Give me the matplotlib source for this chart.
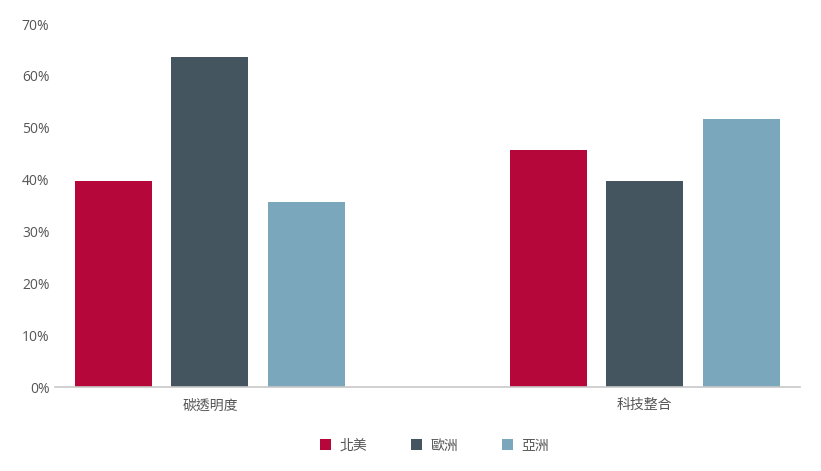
import matplotlib
matplotlib.use("Agg")
import matplotlib.pyplot as plt
import numpy as np

categories = ["碳透明度", "科技整合"]
regions = ["北美", "歐洲", "亞洲"]
north_america = [39.7, 45.7]
europe = [63.6, 39.7]
asia = [35.6, 51.6]
colors = ["#B5073A", "#45555F", "#7BA7BC"]

plt.rcParams['font.family'] = ['Open Sans', 'Noto Sans CJK TC', 'DejaVu Sans']

fig = plt.figure(figsize=(8.21, 4.71), dpi=100)
ax = fig.add_axes([0.067, 0.178, 0.907, 0.771])

x = np.arange(len(categories))
width = 0.177
step = 0.222
for i, (vals, name) in enumerate(zip([north_america, europe, asia], regions)):
    ax.bar(x + (i - 1) * step, vals, width, color=colors[i], label=name)

ax.set_xlim(-0.356, 1.356)
ax.set_ylim(0, 70)
ax.set_yticks(np.arange(0, 71, 10))
ax.set_yticklabels([f"{v}%" for v in range(0, 71, 10)])
ax.set_xticks(x)
ax.set_xticklabels(categories)

for s in ['top', 'right', 'left']:
    ax.spines[s].set_visible(False)
ax.spines['bottom'].set_color("#C8C8C8")
ax.spines['bottom'].set_linewidth(1.2)
ax.tick_params(axis='both', length=0, labelsize=10, colors="#555555")
ax.tick_params(axis='x', pad=8)
ax.tick_params(axis='y', pad=4)

fig.legend(loc='center', bbox_to_anchor=(0.529, 0.053), ncol=3, frameon=False,
           fontsize=10, handlelength=0.8, handleheight=0.8, columnspacing=3.15,
           handletextpad=0.6, labelcolor="#555555")

fig.savefig("out.png", dpi=100)
